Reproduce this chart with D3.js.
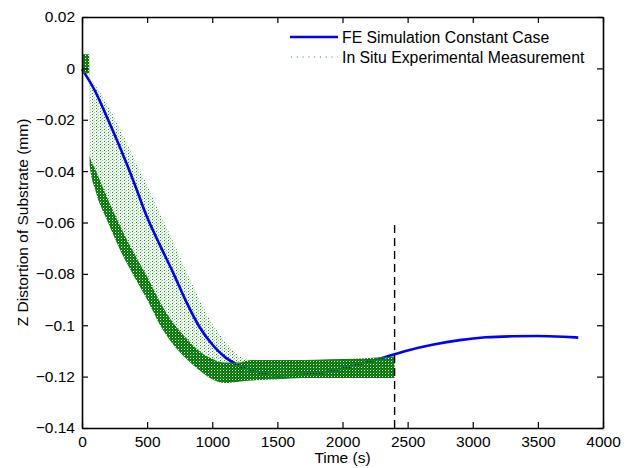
<!DOCTYPE html>
<html>
<head>
<meta charset="utf-8">
<script src="https://cdn.jsdelivr.net/npm/d3@7"></script>
<style>
body { margin: 0; background: #fff; }
text { font-family: "Liberation Sans", Arial, sans-serif; }
</style>
</head>
<body>
<script>
// FE simulation (blue line)
var SIM_TIME = [0, 100, 200, 300, 400, 500, 600, 700, 800, 900, 1000, 1100, 1200, 1300, 1400, 1500,
    1700, 1900, 2100, 2300, 2500, 2700, 2900, 3100, 3300, 3500, 3700, 3810];
var SIM_Z = [-0.0003, -0.0088, -0.0200, -0.0318, -0.0445, -0.058, -0.069, -0.0796, -0.0908, -0.1005,
    -0.1075, -0.1125, -0.1155, -0.1175, -0.119, -0.1195, -0.1192, -0.118, -0.1155, -0.1128,
    -0.1098, -0.1075, -0.1058, -0.1047, -0.1043, -0.1042, -0.1045, -0.1048];

// experimental measurement, read as a band: top of the scatter, top of the dense part, bottom
var EXP_TIME = [0, 55, 60, 100, 200, 300, 400, 500, 600, 700, 800, 900, 1000, 1100, 1200,
    1300, 1500, 1700, 1900, 2100, 2300, 2400];
var EXP_TOP = [0.0055, 0.0055, -0.004, -0.0065, -0.0145, -0.0245, -0.035, -0.0455, -0.0565, -0.0675,
    -0.079, -0.090, -0.0995, -0.1065, -0.112, -0.1135, -0.1135, -0.1135, -0.1132, -0.113, -0.1125, -0.1122];
var EXP_DENSE_TOP = [0.0055, 0.0055, -0.034, -0.039, -0.051, -0.062, -0.072, -0.081, -0.091, -0.099,
    -0.105, -0.110, -0.113, -0.1145, -0.1145, -0.1135, -0.1135, -0.1135, -0.1132, -0.113, -0.1125, -0.1122];
var EXP_BOTTOM = [-0.002, -0.002, -0.038, -0.047, -0.060, -0.0715, -0.081, -0.090, -0.100, -0.1075,
    -0.113, -0.1175, -0.121, -0.1225, -0.122, -0.1215, -0.121, -0.1205, -0.1205, -0.1205, -0.1205, -0.1205];

// dashed marker
var MARK_TIME = 2400;
var MARK_Z = [-0.061, -0.14];

var X_TICKS = [0, 500, 1000, 1500, 2000, 2500, 3000, 3500, 4000];
var Y_TICKS = [0.02, 0, -0.02, -0.04, -0.06, -0.08, -0.1, -0.12, -0.14];

var LEGEND = ["FE Simulation Constant Case", "In Situ Experimental Measurement"];

var MARGINS = {top: 17, bottom: 40, left: 82, right: 33};
var W = 636, H = 468;

var svg = d3.select("body").append("svg").attr("width", W).attr("height", H);

var xScale = d3.scaleLinear().domain([0, 4000]).range([MARGINS.left, W - MARGINS.right]);
var yScale = d3.scaleLinear().domain([-0.14, 0.02]).range([H - MARGINS.bottom, MARGINS.top]);

// dot textures for the scatter band
var defs = svg.append("defs");
var sparse = defs.append("pattern").attr("id", "sparse").attr("patternUnits", "userSpaceOnUse")
    .attr("width", 4).attr("height", 3);
sparse.append("rect").attr("x", 0).attr("y", 0).attr("width", 1).attr("height", 1).attr("fill", "#1f8f1f");
sparse.append("rect").attr("x", 2).attr("y", 1).attr("width", 1).attr("height", 1).attr("fill", "#8fcb8f");
sparse.append("rect").attr("x", 1).attr("y", 2).attr("width", 1).attr("height", 1).attr("fill", "#b8e0b8");

// dense texture: green with one hole in every 3x3 cell
var dense = defs.append("pattern").attr("id", "dense").attr("patternUnits", "userSpaceOnUse")
    .attr("width", 3).attr("height", 3);
[[0, 0, 3, 1], [0, 2, 3, 1], [0, 1, 1, 1], [2, 1, 1, 1]].forEach(function (r) {
    dense.append("rect").attr("x", r[0]).attr("y", r[1]).attr("width", r[2]).attr("height", r[3])
        .attr("fill", "#0b7f0b");
});
dense.append("rect").attr("x", 2).attr("y", 0).attr("width", 1).attr("height", 1).attr("fill", "#2a922a");

var band = EXP_TIME.map(function (t, i) {
    return {t: t, top: EXP_TOP[i], mid: EXP_DENSE_TOP[i], bot: EXP_BOTTOM[i]};
});

var sparseArea = d3.area()
    .x(function (d) { return xScale(d.t); })
    .y0(function (d) { return yScale(d.mid); })
    .y1(function (d) { return yScale(d.top); });
var denseArea = d3.area()
    .x(function (d) { return xScale(d.t); })
    .y0(function (d) { return yScale(d.bot); })
    .y1(function (d) { return yScale(d.mid); })
    .curve(d3.curveMonotoneX);

svg.append("path").datum(band).attr("d", sparseArea).attr("fill", "#008000").attr("fill-opacity", 0.05);
svg.append("path").datum(band).attr("d", sparseArea).attr("fill", "url(#sparse)");

// simulation line
var sim = SIM_TIME.map(function (t, i) { return [t, SIM_Z[i]]; });
var line = d3.line()
    .x(function (d) { return xScale(d[0]); })
    .y(function (d) { return yScale(d[1]); })
    .curve(d3.curveMonotoneX);
svg.append("path").datum(sim).attr("d", line)
    .attr("fill", "none").attr("stroke", "#0000ff").attr("stroke-width", 2.6);

// dense part of the measurement lies over the line
svg.append("path").datum(band).attr("d", denseArea).attr("fill", "url(#dense)");

// dashed vertical line
svg.append("line")
    .attr("x1", xScale(MARK_TIME)).attr("x2", xScale(MARK_TIME))
    .attr("y1", yScale(MARK_Z[0])).attr("y2", yScale(MARK_Z[1]))
    .attr("stroke", "#000").attr("stroke-width", 1.4).attr("stroke-dasharray", "8,5");

// axes, ticks inside on all four sides
var xAxis = d3.axisBottom(xScale).tickValues(X_TICKS).tickSizeInner(-6).tickSizeOuter(0).tickPadding(8)
    .tickFormat(d3.format("d"));
var xTop = d3.axisTop(xScale).tickValues(X_TICKS).tickSizeInner(-6).tickSizeOuter(0).tickFormat("");
var yAxis = d3.axisLeft(yScale).tickValues(Y_TICKS).tickSizeInner(-6).tickSizeOuter(0).tickPadding(7)
    .tickFormat(d3.format("~g"));
var yRight = d3.axisRight(yScale).tickValues(Y_TICKS).tickSizeInner(-6).tickSizeOuter(0).tickFormat("");

svg.append("g").attr("class", "x axis").attr("transform", "translate(0," + (H - MARGINS.bottom) + ")").call(xAxis);
svg.append("g").attr("class", "x axis").attr("transform", "translate(0," + MARGINS.top + ")").call(xTop);
svg.append("g").attr("class", "y axis").attr("transform", "translate(" + MARGINS.left + ",0)").call(yAxis);
svg.append("g").attr("class", "y axis").attr("transform", "translate(" + (W - MARGINS.right) + ",0)").call(yRight);

svg.selectAll(".axis path").attr("stroke", "#000").attr("stroke-width", 1.6);
svg.selectAll(".axis line").attr("stroke", "#000").attr("stroke-width", 1.2);
svg.selectAll(".axis text").attr("fill", "#000").style("font-size", "15.5px")
    .style("font-family", "'Liberation Sans', Arial, sans-serif");

// axis titles
svg.append("text").attr("x", (MARGINS.left + W - MARGINS.right) / 2).attr("y", 463)
    .attr("text-anchor", "middle").style("font-size", "15.5px").text("Time (s)");
svg.append("text")
    .attr("transform", "translate(28," + (MARGINS.top + H - MARGINS.bottom) / 2 + ") rotate(-90)")
    .attr("text-anchor", "middle").style("font-size", "15.5px").text("Z Distortion of Substrate (mm)");

// legend
var leg = svg.append("g").attr("transform", "translate(290,37)");
leg.append("line").attr("x1", 0).attr("x2", 48).attr("y1", 0).attr("y2", 0)
    .attr("stroke", "#0000ff").attr("stroke-width", 2.6);
leg.append("line").attr("x1", 1).attr("x2", 48).attr("y1", 20).attr("y2", 20)
    .attr("stroke", "#1f8f1f").attr("stroke-width", 1).attr("stroke-dasharray", "1,4.8");
leg.selectAll("text.lbl").data(LEGEND).enter().append("text")
    .attr("class", "lbl")
    .attr("x", 52)
    .attr("y", function (d, i) { return i * 20 + 5.5; })
    .style("font-size", "15.8px")
    .text(function (d) { return d; });
</script>
</body>
</html>
